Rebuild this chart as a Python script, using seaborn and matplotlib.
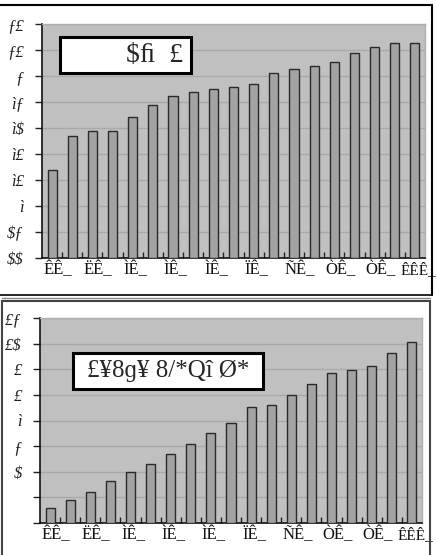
import matplotlib
matplotlib.use("Agg")
import matplotlib.pyplot as plt
import matplotlib.transforms as mtransforms
from matplotlib.patches import Rectangle
import seaborn as sns
import pandas as pd

# ---------------- data ----------------
top_values = [3.38, 4.69, 4.88, 4.88, 5.42, 5.88, 6.23, 6.38, 6.50, 6.56,
              6.69, 7.13, 7.26, 7.37, 7.54, 7.90, 8.13, 8.26, 8.28]
bottom_values = [0.59, 0.90, 1.21, 1.64, 1.99, 2.30, 2.70, 3.09, 3.52, 3.91,
                 4.53, 4.61, 5.00, 5.43, 5.86, 5.98, 6.13, 6.64, 7.07]
categories = [f"c{i+1}" for i in range(19)]

x_tick_labels = ["ÊÊ_", "ËÊ_", "ÌÊ_", "ÌÊ_", "ÌÊ_", "ÏÊ_", "ÑÊ_", "ÒÊ_", "ÒÊ_", "ÊÊÊ_"]
top_y_labels = ["$$", "$ƒ", "ì", "ì£", "ì£", "ì$", "ìƒ", "ƒ", "ƒ£", "ƒ£"]
bottom_y_labels = ["", "", "$", "ƒ", "ì", "£", "£", "£$", "£ƒ"]
top_title = "$ﬁ  £"
bottom_title = "£¥8ɡ¥ 8/*Qî Ø*"

# ---------------- style ----------------
W, H = 437, 555
sns.set_style("white")
plt.rcParams["font.family"] = ["Liberation Serif", "DejaVu Serif"]
plt.rcParams["text.parse_math"] = False
fig = plt.figure(figsize=(W / 100, H / 100), dpi=100)

BAR = "#a3a3a3"
BG = "#c0c0c0"
GRID = "#a9a9a9"


def px_axes(left, top, right, bottom):
    return fig.add_axes([left / W, 1 - bottom / H, (right - left) / W, (bottom - top) / H])


def draw_panel(ax, values, ylabels, box):
    df = pd.DataFrame({"cat": categories, "val": values})
    sns.barplot(data=df, x="cat", y="val", color=BAR, width=0.45,
                edgecolor="#2a2a2a", linewidth=1.0, saturation=1, ax=ax, zorder=3)
    ax.set_facecolor(BG)
    n = len(ylabels) - 1
    ax.set_ylim(0, n)
    ax.set_xlim(-0.5, len(values) - 0.5)
    ax.set_yticks(range(n + 1))
    ax.set_yticklabels(ylabels, fontsize=12, style="italic", color="#222")
    ax.yaxis.grid(True, color=GRID, linewidth=1.0, zorder=0)
    ax.set_axisbelow(True)
    # category labels every second bar, left-anchored just left of the bar
    ax.set_xticks([])
    base = mtransforms.blended_transform_factory(ax.transData, ax.transAxes)
    positions = list(range(0, len(values), 2))
    for i, (pos, lab) in enumerate(zip(positions, x_tick_labels)):
        last = i == len(positions) - 1
        dx = -14 if last else -9
        tr = base + mtransforms.ScaledTranslation(dx / 100, -4 / 100, fig.dpi_scale_trans)
        ax.text(pos, 0, lab, transform=tr, ha="left", va="top",
                fontsize=11 if last else 12, color="#111", clip_on=False)
    ax.set_xticks([i + 0.5 for i in range(len(values) - 1)], minor=True)
    ax.tick_params(axis="x", which="minor", direction="in", length=4, width=1, color="#222", bottom=True)
    ax.tick_params(axis="y", which="major", direction="out", length=5, width=1, color="#222", left=True, pad=8)
    ax.set_xlabel("")
    ax.set_ylabel("")
    for s in ["left", "bottom"]:
        ax.spines[s].set_color("#111")
        ax.spines[s].set_linewidth(1.2)
    for s in ["top", "right"]:
        ax.spines[s].set_color("#b0b0b0")
        ax.spines[s].set_linewidth(1.0)
    bl, bt, br, bb = box
    rect = Rectangle((bl / W, 1 - bb / H), (br - bl) / W, (bb - bt) / H,
                     transform=fig.transFigure, facecolor="white",
                     edgecolor="black", linewidth=2.2, zorder=10)
    fig.add_artist(rect)


# panel frames
fig.add_artist(plt.Line2D([0, 432 / W], [1 - 5 / H, 1 - 5 / H], transform=fig.transFigure, color="black", lw=1.5))
fig.add_artist(plt.Line2D([432 / W, 432 / W], [1 - 5 / H, 1 - 295 / H], transform=fig.transFigure, color="black", lw=1.5))
fig.add_artist(plt.Line2D([0, 432 / W], [1 - 295 / H, 1 - 295 / H], transform=fig.transFigure, color="black", lw=1.2))
fig.add_artist(Rectangle((2 / W, -0.01), 428 / W, 1 - 301 / H + 0.01, transform=fig.transFigure,
                         facecolor="none", edgecolor="#444", lw=1.5))
fig.add_artist(plt.Line2D([2 / W, 430 / W], [1 - 298 / H, 1 - 298 / H], transform=fig.transFigure, color="#888", lw=1.0))

ax1 = px_axes(42, 24, 425, 258)
draw_panel(ax1, top_values, top_y_labels, (60, 37, 191, 73))
fig.text(183 / W, 1 - 56 / H, top_title, fontsize=20, ha="right", va="center", zorder=11)

ax2 = px_axes(40, 318, 422, 523)
draw_panel(ax2, bottom_values, bottom_y_labels, (73, 353, 263, 389))
fig.text(168 / W, 1 - 371 / H, bottom_title, fontsize=18, ha="center", va="center", zorder=11)

fig.savefig("out.png", dpi=100)
